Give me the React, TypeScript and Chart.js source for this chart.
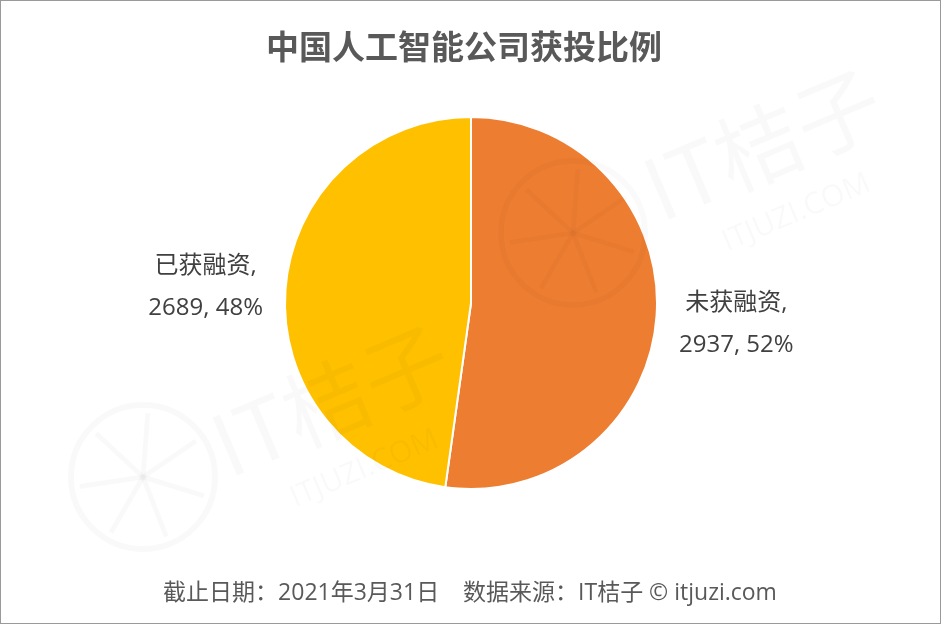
import React, { useEffect, useRef } from "react";
import { Chart, registerables } from "chart.js";

Chart.register(...registerables);

const categories = ["未获融资", "已获融资"];
const values = [2937, 2689];
const percents = ["52%", "48%"];
const colors = ["#ED7D31", "#FFC000"];
const titleText = "中国人工智能公司获投比例";
const footerText = "截止日期：2021年3月31日    数据来源：IT桔子 © itjuzi.com";

const FONT = '"Noto Sans CJK SC", "Noto Sans", sans-serif';
const LFONT = '"Open Sans", "Noto Sans CJK SC", sans-serif';

function drawLogo(ctx: any, x: number, y: number, r: number, color: string) {
  ctx.save();
  ctx.strokeStyle = color;
  ctx.lineWidth = 6;
  ctx.beginPath();
  ctx.arc(x, y, r, 0, Math.PI * 2);
  ctx.stroke();
  ctx.lineWidth = 5;
  for (let k = 0; k < 7; k++) {
    const a = (k / 7) * Math.PI * 2 + 0.3;
    ctx.beginPath();
    ctx.moveTo(x, y);
    ctx.lineTo(x + Math.cos(a) * (r - 8), y + Math.sin(a) * (r - 8));
    ctx.stroke();
  }
  ctx.restore();
}

function drawMark(ctx: any, x: number, y: number, color: string) {
  ctx.save();
  ctx.fillStyle = color;
  ctx.textAlign = "left";
  ctx.textBaseline = "alphabetic";
  ctx.translate(x, y);
  ctx.rotate(-0.4);
  ctx.font = "86px " + FONT;
  ctx.fillText("IT桔子", 0, 0);
  ctx.font = "30px " + LFONT;
  ctx.fillText("ITJUZI.COM", 50, 52);
  ctx.restore();
}

const decorPlugin = {
  id: "decor",
  beforeDraw(chart: any) {
    const ctx = chart.ctx;
    ctx.save();
    ctx.fillStyle = "#ffffff";
    ctx.fillRect(0, 0, chart.width, chart.height);
    ctx.restore();
    drawLogo(ctx, 142, 476, 72, "rgba(0,0,0,0.022)");
  },
  afterDatasetsDraw(chart: any) {
    const ctx = chart.ctx;
    drawMark(ctx, 660, 222, "rgba(0,0,0,0.025)");
    drawMark(ctx, 228, 478, "rgba(0,0,0,0.022)");
    drawLogo(ctx, 572, 232, 72, "rgba(0,0,0,0.018)");

    // labels
    const meta = chart.getDatasetMeta(0);
    ctx.save();
    ctx.fillStyle = "#404040";
    ctx.font = "24px " + LFONT;
    ctx.textAlign = "center";
    ctx.textBaseline = "middle";
    meta.data.forEach((arc: any, i: number) => {
      const p = arc.getProps(["x", "y", "startAngle", "endAngle", "outerRadius"], true);
      const mid = (p.startAngle + p.endAngle) / 2;
      const r = p.outerRadius * 1.43;
      const cx = p.x + Math.cos(mid) * r;
      const cy = p.y + Math.sin(mid) * r;
      ctx.fillText(categories[i] + ",", cx, cy - 18);
      ctx.fillText(values[i] + ", " + percents[i], cx, cy + 24);
    });
    ctx.restore();

    // title
    ctx.save();
    ctx.fillStyle = "#595959";
    ctx.textAlign = "center";
    ctx.textBaseline = "middle";
    ctx.font = "bold 33px " + FONT;
    ctx.fillText(titleText, 463, 45);
    ctx.font = "23px " + LFONT;
    ctx.fillText(footerText, 469, 592);
    ctx.restore();
  },
};

export default function App() {
  const ref = useRef<HTMLCanvasElement>(null);
  useEffect(() => {
    if (!ref.current) return;
    const chart = new Chart(ref.current, {
      type: "pie",
      data: {
        labels: categories,
        datasets: [
          {
            data: values,
            backgroundColor: colors,
            borderColor: "#ffffff",
            borderWidth: 2,
          },
        ],
      },
      options: {
        animation: false,
        responsive: false,
        maintainAspectRatio: false,
        layout: { padding: { top: 115, bottom: 133, left: 200, right: 199 } },
        plugins: {
          legend: { display: false },
          title: { display: false },
          tooltip: { enabled: false },
        },
      },
      plugins: [decorPlugin],
    });
    return () => chart.destroy();
  }, []);
  return (
    <div
      style={{
        position: "absolute",
        left: 0,
        top: 0,
        width: 941,
        height: 624,
        boxSizing: "border-box",
        border: "1px solid #9a9a9a",
        overflow: "hidden",
        background: "#fff",
      }}
    >
      <canvas ref={ref} width={939} height={622} style={{ display: "block" }} />
    </div>
  );
}
